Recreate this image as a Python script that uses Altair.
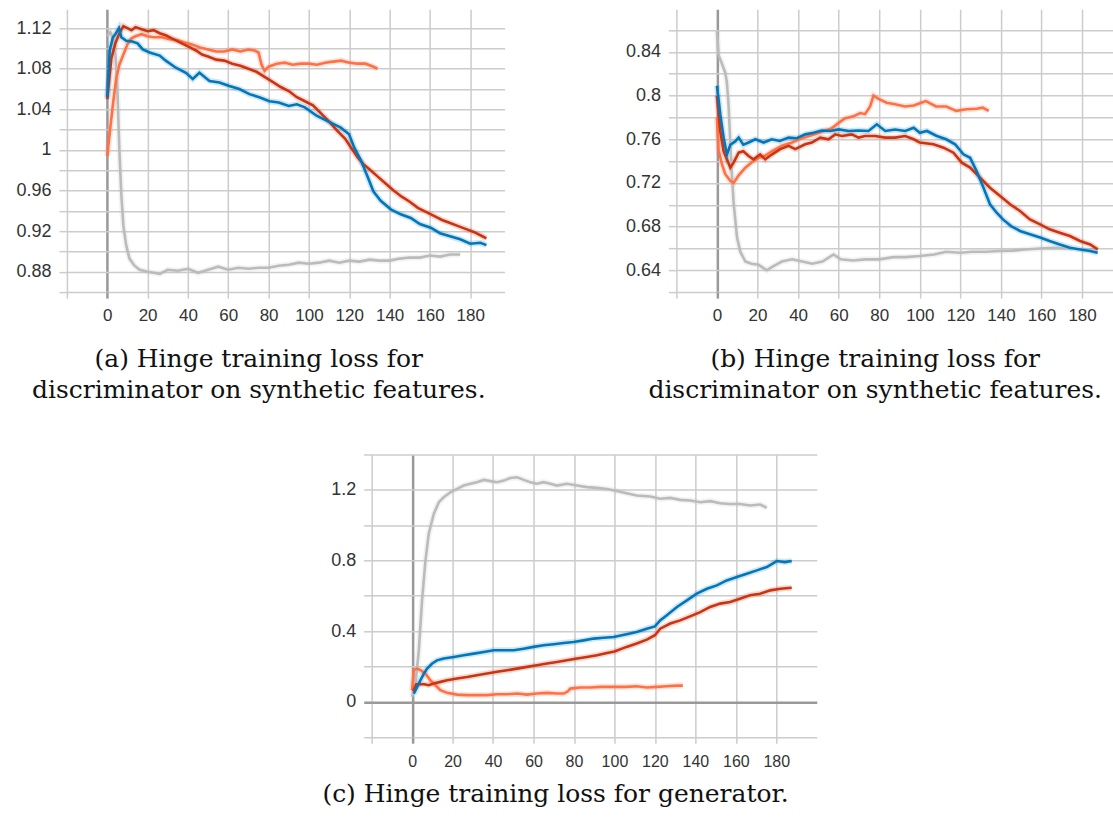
import altair as alt
import pandas as pd

# ---------------- data ----------------
RUNS = ["gray", "orange", "red", "blue"]
RUN_COLORS = ["#bbbbbb", "#ff7043", "#cc3311", "#0077bb"]
X_TICKS = [-20, 0, 20, 40, 60, 80, 100, 120, 140, 160, 180]

# (a) discriminator hinge loss on synthetic features
A_GRAY_X = [0, 1.5, 3, 4, 5, 6, 7, 8, 9.4, 11, 13.5, 16, 20, 23, 26, 30, 35, 40, 45, 50, 55, 60, 65, 70, 75, 80,
            85, 90, 95, 100, 105, 110, 115, 120, 125, 130, 135, 140, 145, 150, 155, 160, 165, 170, 175]
A_GRAY_Y = [1.112, 1.116, 1.110, 1.095, 1.060, 1.000, 0.955, 0.925, 0.906, 0.893, 0.886, 0.882, 0.880, 0.879, 0.878,
            0.882, 0.881, 0.883, 0.879, 0.882, 0.885, 0.882, 0.884, 0.883, 0.884, 0.884, 0.886, 0.887, 0.889, 0.888,
            0.889, 0.891, 0.889, 0.891, 0.890, 0.892, 0.891, 0.891, 0.893, 0.894, 0.894, 0.896, 0.895, 0.897, 0.897]
A_ORANGE_X = [0, 1.5, 3, 4.5, 6, 8, 10, 12, 14, 17, 20, 23, 27, 31, 35, 38, 42, 46, 50, 54, 58, 62, 66, 70, 73, 75,
              76.5, 78, 80, 84, 88, 92, 96, 100, 104, 108, 112, 116, 120, 124, 128, 132, 134]
A_ORANGE_Y = [0.994, 1.022, 1.048, 1.071, 1.084, 1.094, 1.104, 1.110, 1.112, 1.114, 1.112, 1.111, 1.111, 1.109,
              1.108, 1.106, 1.104, 1.101, 1.099, 1.097, 1.097, 1.099, 1.097, 1.099, 1.098, 1.096, 1.084, 1.078,
              1.082, 1.085, 1.086, 1.084, 1.085, 1.085, 1.084, 1.086, 1.087, 1.088, 1.086, 1.085, 1.085, 1.082, 1.080]
A_RED_X = [0, 2, 4, 6, 8, 10, 12, 14, 17, 20, 23, 26, 29, 32, 35, 38, 41, 44, 47, 50, 54, 58, 62, 66, 70, 74, 78, 82,
           86, 90, 94, 98, 102, 106, 110, 114, 118, 121, 124, 127, 130, 134, 138, 142, 146, 150, 154, 158, 162, 166,
           170, 174, 178, 182, 186, 188]
A_RED_Y = [1.050, 1.090, 1.105, 1.115, 1.122, 1.120, 1.118, 1.121, 1.119, 1.117, 1.118, 1.115, 1.113, 1.110, 1.107,
           1.104, 1.101, 1.098, 1.094, 1.092, 1.089, 1.088, 1.085, 1.083, 1.080, 1.077, 1.072, 1.067, 1.062, 1.058,
           1.052, 1.048, 1.044, 1.036, 1.028, 1.019, 1.011, 1.002, 0.993, 0.986, 0.981, 0.974, 0.967, 0.960, 0.954,
           0.949, 0.943, 0.939, 0.935, 0.931, 0.928, 0.925, 0.922, 0.919, 0.915, 0.913]
A_BLUE_X = [0, 1.2, 2.8, 4, 5.8, 7, 9.4, 12, 15, 17.6, 21, 26, 29, 34, 39, 42.4, 45.7, 50.7, 55.6, 60.5, 65.5, 70.5,
            75.4, 80.4, 85, 90, 94, 98, 104, 109, 115.8, 119.9, 122.5, 125.7, 129, 132, 135.6, 140.6, 145.5, 150.5,
            155, 160.4, 165, 170, 175, 180, 185, 188]
A_BLUE_Y = [1.052, 1.098, 1.111, 1.114, 1.120, 1.111, 1.1075, 1.107, 1.105, 1.099, 1.096, 1.093, 1.088, 1.081, 1.076,
            1.070, 1.076, 1.068, 1.0665, 1.063, 1.060, 1.055, 1.052, 1.048, 1.0467, 1.0434, 1.045, 1.042, 1.0335,
            1.0286, 1.022, 1.0155, 1.0023, 0.990, 0.974, 0.959, 0.950, 0.9415, 0.9366, 0.933, 0.927, 0.9234, 0.918,
            0.915, 0.912, 0.9077, 0.9086, 0.9063]

# (b) discriminator hinge loss on synthetic features
B_GRAY_X = [0, 0.8, 2.5, 4.1, 4.9, 5.7, 7, 8.2, 9.9, 11.5, 14, 17, 20.5, 24.6, 27, 32, 37, 42, 47, 52, 57.5, 61, 67,
            73, 80, 87, 93, 100, 107, 113, 120, 126, 133, 139, 146, 152, 159, 166, 171, 175]
B_GRAY_Y = [0.859, 0.837, 0.829, 0.821, 0.812, 0.792, 0.740, 0.702, 0.670, 0.657, 0.648, 0.646, 0.645, 0.640, 0.643,
            0.648, 0.650, 0.648, 0.646, 0.648, 0.6545, 0.650, 0.649, 0.650, 0.650, 0.652, 0.652, 0.653, 0.6545,
            0.657, 0.656, 0.657, 0.657, 0.6576, 0.658, 0.659, 0.660, 0.6605, 0.660, 0.660]
B_ORANGE_X = [0, 0.8, 2.5, 4.1, 6.6, 8.2, 10.7, 14, 17.2, 20.5, 23.8, 27, 32, 37, 42, 47, 52, 56.6, 60, 63, 67.3, 70.6,
              73, 75.5, 77.2, 79.6, 83.7, 87.8, 92.8, 97, 100, 103, 108, 113, 118, 123, 128, 131, 134]
B_ORANGE_Y = [0.780, 0.750, 0.737, 0.728, 0.722, 0.720, 0.727, 0.734, 0.739, 0.743, 0.745, 0.749, 0.754, 0.757,
              0.761, 0.764, 0.767, 0.770, 0.775, 0.779, 0.781, 0.784, 0.783, 0.790, 0.800, 0.797, 0.7935, 0.792,
              0.790, 0.791, 0.793, 0.795, 0.790, 0.790, 0.786, 0.7875, 0.788, 0.789, 0.786]
B_RED_X = [0, 1.6, 3.3, 4.9, 6.6, 8.2, 10.7, 13, 15.6, 18, 21.3, 23.8, 27, 31.2, 35.3, 38.6, 43.5, 46.8, 50.9, 55,
           58.3, 61.6, 66.5, 69.8, 73, 78, 83, 87.8, 92.8, 97, 100, 106.7, 111.7, 116.6, 120.7, 124.8, 129.7, 134.6,
           139.6, 144.5, 149.4, 154.3, 159.3, 164, 169, 174, 179, 184, 187.7]
B_RED_Y = [0.800, 0.7676, 0.749, 0.7416, 0.734, 0.7386, 0.7477, 0.749, 0.7446, 0.7416, 0.746, 0.7416, 0.746, 0.751,
           0.754, 0.751, 0.7554, 0.757, 0.7615, 0.760, 0.7645, 0.763, 0.7645, 0.7615, 0.763, 0.763, 0.7615, 0.7615,
           0.763, 0.760, 0.757, 0.7554, 0.7523, 0.7477, 0.7386, 0.734, 0.7248, 0.7156, 0.708, 0.7004, 0.6943,
           0.6866, 0.682, 0.6775, 0.6744, 0.6714, 0.6668, 0.6637, 0.6591]
B_BLUE_X = [0, 1.6, 3.3, 4.9, 6.6, 9, 10.7, 13, 15.6, 18.9, 23, 27, 31, 35.3, 39.4, 43.5, 47.6, 51.7, 55.8, 60, 64.9,
            69.8, 74.7, 78.8, 83, 87.8, 92.8, 97, 100, 103.5, 108.4, 113, 117.4, 121.5, 124.8, 128, 131.4, 134.6,
            137.9, 141, 145, 149.4, 154.3, 159.3, 164, 169, 174, 179, 184, 187.7]
B_BLUE_Y = [0.809, 0.783, 0.7615, 0.746, 0.755, 0.758, 0.7615, 0.755, 0.757, 0.760, 0.757, 0.760, 0.7585, 0.7615,
            0.761, 0.7645, 0.766, 0.768, 0.7676, 0.769, 0.7676, 0.768, 0.7676, 0.7737, 0.7676, 0.769, 0.7676,
            0.7706, 0.766, 0.7676, 0.763, 0.760, 0.7554, 0.7462, 0.743, 0.731, 0.7156, 0.7004, 0.6927, 0.6866,
            0.6805, 0.676, 0.673, 0.670, 0.6668, 0.6637, 0.6607, 0.6591, 0.6576, 0.656]

# (c) generator hinge loss
C_GRAY_X = [0, 1.6, 3.3, 4.9, 6.6, 8.2, 10.7, 13.2, 15.6, 18.9, 22.2, 25.5, 28.8, 32, 35.4, 38.7, 42, 45.3, 48.6,
            51.9, 55.2, 58.4, 61.7, 65, 68.3, 71.6, 76.5, 81.5, 86.4, 91.4, 96.3, 100, 106, 111, 117.7, 122.6,
            127.6, 132.5, 137.4, 142.4, 147.3, 152.3, 157.2, 162, 167, 172, 175.3]
C_GRAY_Y = [0.028, 0.10, 0.29, 0.574, 0.80, 0.951, 1.064, 1.13, 1.158, 1.186, 1.205, 1.224, 1.234, 1.243, 1.256,
            1.249, 1.243, 1.252, 1.267, 1.271, 1.256, 1.243, 1.234, 1.243, 1.234, 1.224, 1.234, 1.224, 1.215, 1.211,
            1.205, 1.196, 1.181, 1.168, 1.162, 1.149, 1.154, 1.143, 1.139, 1.13, 1.136, 1.124, 1.12, 1.12, 1.111,
            1.117, 1.098]
C_ORANGE_X = [0, 0.8, 2.5, 4.1, 6.6, 9, 11.5, 14, 17.3, 22.2, 27.2, 32, 37, 42, 47, 51.9, 56.8, 61.7, 66.7, 71.6, 75,
              77, 78.2, 83, 88, 93, 99.6, 106, 111, 116, 121, 125.9, 130.9, 133.8]
C_ORANGE_Y = [0.066, 0.18, 0.188, 0.18, 0.16, 0.122, 0.094, 0.066, 0.051, 0.041, 0.038, 0.038, 0.038, 0.043, 0.043,
              0.047, 0.041, 0.047, 0.051, 0.047, 0.047, 0.06, 0.075, 0.081, 0.081, 0.085, 0.085, 0.085, 0.088, 0.081,
              0.085, 0.088, 0.092, 0.092]
C_RED_X = [0.5, 2, 4, 6, 8.2, 10.7, 14, 17.3, 22.2, 27.2, 32, 37, 42, 47, 51.9, 56.8, 61.7, 66.7, 71.6, 76.5, 81.5,
           86.4, 91.4, 96.3, 100, 106, 111, 116, 120, 122.6, 127.6, 132.5, 137.4, 142.4, 147.3, 152.3, 157.2, 162,
           167, 172, 177, 182, 187.6]
C_RED_Y = [0.06, 0.10, 0.10, 0.10, 0.094, 0.104, 0.113, 0.122, 0.132, 0.141, 0.151, 0.16, 0.17, 0.179, 0.188, 0.198,
           0.207, 0.217, 0.226, 0.235, 0.245, 0.254, 0.264, 0.277, 0.285, 0.311, 0.33, 0.352, 0.377, 0.414, 0.443,
           0.461, 0.484, 0.508, 0.537, 0.556, 0.565, 0.584, 0.603, 0.612, 0.631, 0.64, 0.646]
C_BLUE_X = [0.8, 2.5, 4.1, 5.8, 7.4, 9.9, 12.3, 15.6, 20.6, 25.5, 30.5, 35.4, 40.3, 45.3, 50.2, 55.1, 60, 65, 70, 74.9,
            79.8, 84.8, 89.7, 94.7, 99.6, 106, 111, 116, 120, 122.6, 125.9, 130.9, 135.8, 140.7, 145.7, 150.6, 155.5,
            160.5, 165.4, 170.4, 175.3, 180.2, 184.2, 187.6]
C_BLUE_Y = [0.047, 0.085, 0.122, 0.16, 0.188, 0.217, 0.235, 0.245, 0.254, 0.264, 0.273, 0.282, 0.292, 0.292, 0.292,
            0.301, 0.311, 0.32, 0.326, 0.333, 0.339, 0.348, 0.358, 0.363, 0.367, 0.382, 0.395, 0.414, 0.427, 0.461,
            0.49, 0.537, 0.574, 0.612, 0.64, 0.659, 0.687, 0.706, 0.725, 0.744, 0.763, 0.797, 0.791, 0.797]

CAPTION_A = ["(a) Hinge training loss for", "discriminator on synthetic features."]
CAPTION_B = ["(b) Hinge training loss for", "discriminator on synthetic features."]
CAPTION_C = ["(c) Hinge training loss for generator."]

A_Y_TICKS = [round(0.86 + 0.02 * i, 2) for i in range(14)]
B_Y_TICKS = [round(0.62 + 0.02 * i, 2) for i in range(13)]
C_Y_TICKS = [round(-0.2 + 0.2 * i, 1) for i in range(9)]

# ---------------- styling ----------------
GRID = "#cccccc"
ZERO = "#999999"
LABEL_FONT = "Liberation Sans"
CAP_FONT = "DejaVu Serif"


def make_frame(series):
    rows = []
    for i, name in enumerate(RUNS):
        xs, ys = series[name]
        for j, (x, y) in enumerate(zip(xs, ys)):
            rows.append({"run": name, "k": i, "idx": j, "step": x, "loss": y})
    return pd.DataFrame(rows)


def zero_cond(zero_val, other):
    return {"condition": {"test": "datum.value === 0", "value": zero_val}, "value": other}


def panel(df, xdom, ydom, yticks, label_mod, width, caption, cap_x, cap_y, xlab_size, xlab_pad):
    xaxis = alt.Axis(values=X_TICKS, grid=True, gridColor=zero_cond(ZERO, GRID),
                     gridWidth=zero_cond(2.5, 1.5), tickColor=zero_cond(ZERO, GRID),
                     tickWidth=zero_cond(2.5, 1.5), tickSize=6, domain=False,
                     labelExpr="datum.value < 0 ? '' : datum.label", labelFont=LABEL_FONT,
                     labelFontSize=xlab_size, labelColor="#333333", labelPadding=xlab_pad, title=None)
    yaxis = alt.Axis(values=yticks, grid=True, gridColor=zero_cond(ZERO, GRID),
                     gridWidth=zero_cond(2.5, 1.5), tickColor=zero_cond(ZERO, GRID),
                     tickWidth=zero_cond(2.5, 1.5), tickSize=8, domain=False,
                     labelExpr=label_mod, labelFont=LABEL_FONT, labelFontSize=18,
                     labelColor="#333333", labelPadding=8, title=None)
    enc = dict(
        x=alt.X("step:Q", scale=alt.Scale(domain=xdom, nice=False, zero=False), axis=xaxis),
        y=alt.Y("loss:Q", scale=alt.Scale(domain=ydom, nice=False, zero=False), axis=yaxis),
        color=alt.Color("run:N", scale=alt.Scale(domain=RUNS, range=RUN_COLORS), legend=None),
        detail="k:O",
        order="idx:Q",
    )
    base = alt.Chart(df)
    halo = base.mark_line(strokeWidth=6, opacity=0.18, clip=True).encode(**enc)
    line = base.mark_line(strokeWidth=2.6, clip=True).encode(**enc)
    cap = alt.Chart(pd.DataFrame({"c": [0]})).mark_text(
        text=caption, align="center", baseline="alphabetic", font=CAP_FONT, fontSize=25,
        lineHeight=31, color="#111111").encode(x=alt.value(cap_x), y=alt.value(cap_y))
    return alt.layer(halo, line, cap).properties(width=width, height=283)


A_EXPR = "abs(round(datum.value*100)) % 4 == 0 ? format(datum.value, '~g') : ''"
C_EXPR = "abs(round(datum.value*10)) % 4 == 0 ? format(datum.value, '~g') : ''"

df_a = make_frame({"gray": (A_GRAY_X, A_GRAY_Y), "orange": (A_ORANGE_X, A_ORANGE_Y),
                   "red": (A_RED_X, A_RED_Y), "blue": (A_BLUE_X, A_BLUE_Y)})
df_b = make_frame({"gray": (B_GRAY_X, B_GRAY_Y), "orange": (B_ORANGE_X, B_ORANGE_Y),
                   "red": (B_RED_X, B_RED_Y), "blue": (B_BLUE_X, B_BLUE_Y)})
df_c = make_frame({"gray": (C_GRAY_X, C_GRAY_Y), "orange": (C_ORANGE_X, C_ORANGE_Y),
                   "red": (C_RED_X, C_RED_Y), "blue": (C_BLUE_X, C_BLUE_Y)})

pa = panel(df_a, [-20, 197], [0.86, 1.1385], A_Y_TICKS, A_EXPR, 438, CAPTION_A, 192, 358, 17, 9)
pb = panel(df_b, [-20, 195], [0.62, 0.879], B_Y_TICKS, A_EXPR, 436.5, CAPTION_B, 199, 358, 17, 9)
pc = panel(df_c, [-20, 200], [-0.2, 1.4], C_Y_TICKS, C_EXPR, 445.5, CAPTION_C, 184, 348, 16, 10)

spacer = alt.Chart(pd.DataFrame({"s": [0]})).mark_point(opacity=0).encode(
    x=alt.X("s:Q", axis=None), y=alt.Y("s:Q", axis=None)).properties(width=305, height=10)

row1 = alt.hconcat(pa, pb, spacing=172, bounds="flush")
row2 = alt.hconcat(spacer, pc, spacing=0, bounds="flush")

chart = alt.vconcat(row1, row2, spacing=48.5).properties(
    padding={"left": 15, "top": 8, "right": 0, "bottom": 0}
).configure_view(stroke="transparent")

chart.save("out.html", embed_options={"renderer": "svg", "actions": False})
